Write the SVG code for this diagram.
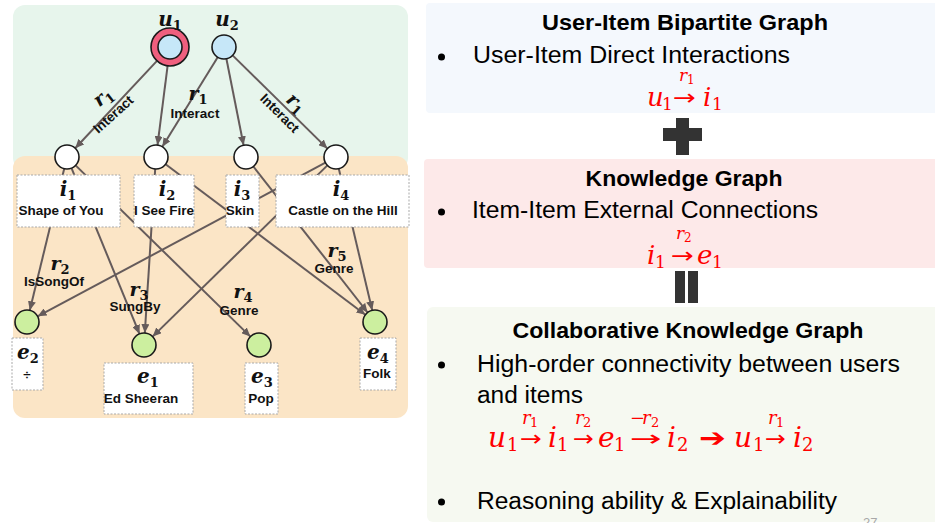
<svg xmlns="http://www.w3.org/2000/svg" width="935" height="523" viewBox="0 0 935 523">
  <style>
    .bg-g { fill: #e7f5ec; }
    .bg-o { fill: #fbe5c6; }
    .edge { stroke: #655b5b; stroke-width: 2; fill: none; marker-end: url(#ah); }
    .nd { stroke: #1a1a1a; stroke-width: 1.6; }
    .item { fill: #ffffff; }
    .ent { fill: #ccef9f; }
    .usr { fill: #c6e7f8; }
    .box { fill: #ffffff; stroke: #a9a9a9; stroke-width: 1; stroke-dasharray: 2 1.5; }
    .m { font-family: "DejaVu Serif", "Liberation Serif", serif; font-weight: bold; fill: #111; }
    .v { font-style: italic; }
    .lbl { font-family: "Liberation Sans", Arial, sans-serif; font-weight: bold; font-size: 13.5px; fill: #111; }
    .h { font-family: "Liberation Sans", Arial, sans-serif; font-weight: bold; font-size: 22px; fill: #000; text-anchor: middle; }
    .b { font-family: "Liberation Sans", Arial, sans-serif; font-size: 23px; fill: #000; }
    .f { font-family: "DejaVu Serif", "Liberation Serif", serif; font-style: italic; fill: #ff0000; }
    .fu { font-style: normal; }
    .ar { font-family: "DejaVu Sans", sans-serif; fill: #ff0000; font-style: normal; }
    .sym { fill: #333333; }
  </style>
  <defs>
    <marker id="ah" markerUnits="userSpaceOnUse" markerWidth="10" markerHeight="8" refX="9" refY="4" orient="auto">
      <path d="M0,0 L9,4 L0,8 z" fill="#655b5b"/>
    </marker>
  </defs>

  <!-- left: graph backgrounds -->
  <rect class="bg-g" x="13" y="5" width="395" height="165" rx="12"/>
  <rect class="bg-o" x="13" y="156" width="395" height="262" rx="12"/>

  <!-- connectors -->
  <g id="connectors">
    <line class="edge" x1="157" y1="60.9" x2="75.2" y2="148.2"/>
    <line class="edge" x1="167.6" y1="65.8" x2="157.5" y2="145.1"/>
    <line class="edge" x1="217.7" y1="57.2" x2="162.3" y2="146.8"/>
    <line class="edge" x1="226.4" y1="58.8" x2="243.6" y2="145.2"/>
    <line class="edge" x1="232.6" y1="55.4" x2="327.4" y2="148.6"/>

    <line class="edge" x1="64.2" y1="168.7" x2="29.8" y2="310.3"/>
    <line class="edge" x1="71.5" y1="168.1" x2="139.5" y2="333.9"/>
    <line class="edge" x1="75.6" y1="165.4" x2="250.4" y2="336.6"/>
    <line class="edge" x1="155.2" y1="169" x2="144.8" y2="333"/>
    <line class="edge" x1="165.6" y1="164.2" x2="365.4" y2="314.8"/>
    <line class="edge" x1="253.4" y1="166.5" x2="367.6" y2="312.5"/>
    <line class="edge" x1="327.4" y1="165.4" x2="152.6" y2="336.6"/>
    <line class="edge" x1="325.4" y1="162.7" x2="37.6" y2="316.3"/>
    <line class="edge" x1="338.8" y1="168.7" x2="372.2" y2="310.3"/>

    <!-- relation labels -->
    <g transform="translate(103,97) rotate(-38)">
      <text class="m" text-anchor="middle" y="6"><tspan class="v" font-size="19">r</tspan><tspan font-size="13" dy="4">1</tspan></text>
    </g>
    <text class="lbl" transform="translate(113,114) rotate(-42)" text-anchor="middle" y="5" font-size="13">Interact</text>
    <text class="m" x="198" y="100" text-anchor="middle"><tspan class="v" font-size="19">r</tspan><tspan font-size="13" dy="4">1</tspan></text>
    <text class="lbl" x="195" y="118" text-anchor="middle" font-size="13">Interact</text>
    <g transform="translate(296,103) rotate(42)">
      <text class="m" text-anchor="middle" y="6"><tspan class="v" font-size="19">r</tspan><tspan font-size="13" dy="4">1</tspan></text>
    </g>
    <text class="lbl" transform="translate(280,113) rotate(45)" text-anchor="middle" y="5" font-size="13">Interact</text>

    <text class="m" x="60" y="270" text-anchor="middle"><tspan class="v" font-size="19">r</tspan><tspan font-size="13" dy="4">2</tspan></text>
    <text class="lbl" x="54" y="286" text-anchor="middle">IsSongOf</text>
    <text class="m" x="139" y="296" text-anchor="middle"><tspan class="v" font-size="19">r</tspan><tspan font-size="13" dy="4">3</tspan></text>
    <text class="lbl" x="135" y="311" text-anchor="middle">SungBy</text>
    <text class="m" x="243" y="298" text-anchor="middle"><tspan class="v" font-size="19">r</tspan><tspan font-size="13" dy="4">4</tspan></text>
    <text class="lbl" x="239" y="315" text-anchor="middle">Genre</text>
    <text class="m" x="337" y="257" text-anchor="middle"><tspan class="v" font-size="19">r</tspan><tspan font-size="13" dy="4">5</tspan></text>
    <text class="lbl" x="334" y="273" text-anchor="middle">Genre</text>
  </g>

  <!-- users -->
  <g id="u1">
    <circle cx="170" cy="47" r="19" fill="#ef5f7e" class="nd"/>
    <circle cx="170" cy="47" r="12" class="nd usr"/>
    <text class="m" x="170" y="26" text-anchor="middle"><tspan class="v" font-size="20">u</tspan><tspan font-size="13" dy="4">1</tspan></text>
  </g>
  <g id="u2">
    <circle cx="224" cy="47" r="12" class="nd usr"/>
    <text class="m" x="227" y="26" text-anchor="middle"><tspan class="v" font-size="20">u</tspan><tspan font-size="13" dy="4">2</tspan></text>
  </g>

  <!-- items -->
  <g id="i1">
    <circle cx="67" cy="157" r="12" class="nd item"/>
    <rect class="box" x="17" y="175" width="103" height="52"/>
    <text class="m" x="68" y="196" text-anchor="middle"><tspan class="v" font-size="20">i</tspan><tspan font-size="13" dy="4">1</tspan></text>
    <text class="lbl" x="61" y="215" text-anchor="middle">Shape of You</text>
  </g>
  <g id="i2">
    <circle cx="156" cy="157" r="12" class="nd item"/>
    <rect class="box" x="134" y="175" width="60" height="52"/>
    <text class="m" x="167" y="196" text-anchor="middle"><tspan class="v" font-size="20">i</tspan><tspan font-size="13" dy="4">2</tspan></text>
    <text class="lbl" x="164" y="215" text-anchor="middle">I See Fire</text>
  </g>
  <g id="i3">
    <circle cx="246" cy="157" r="12" class="nd item"/>
    <rect class="box" x="226" y="175" width="33" height="52"/>
    <text class="m" x="242" y="196" text-anchor="middle"><tspan class="v" font-size="20">i</tspan><tspan font-size="13" dy="4">3</tspan></text>
    <text class="lbl" x="240" y="215" text-anchor="middle">Skin</text>
  </g>
  <g id="i4">
    <circle cx="336" cy="157" r="12" class="nd item"/>
    <rect class="box" x="276" y="175" width="133" height="52"/>
    <text class="m" x="341" y="196" text-anchor="middle"><tspan class="v" font-size="20">i</tspan><tspan font-size="13" dy="4">4</tspan></text>
    <text class="lbl" x="343" y="215" text-anchor="middle">Castle on the Hill</text>
  </g>

  <!-- entities -->
  <g id="e2">
    <circle cx="27" cy="322" r="12" class="nd ent"/>
    <rect class="box" x="12" y="338" width="31" height="52"/>
    <text class="m" x="28" y="359" text-anchor="middle"><tspan class="v" font-size="20">e</tspan><tspan font-size="13" dy="4">2</tspan></text>
    <text class="lbl" x="27" y="379" text-anchor="middle">÷</text>
  </g>
  <g id="e1">
    <circle cx="144" cy="345" r="12" class="nd ent"/>
    <rect class="box" x="104" y="363" width="89" height="51"/>
    <text class="m" x="148" y="383" text-anchor="middle"><tspan class="v" font-size="20">e</tspan><tspan font-size="13" dy="4">1</tspan></text>
    <text class="lbl" x="141" y="403" text-anchor="middle">Ed Sheeran</text>
  </g>
  <g id="e3">
    <circle cx="259" cy="345" r="12" class="nd ent"/>
    <rect class="box" x="245" y="363" width="33" height="51"/>
    <text class="m" x="262" y="383" text-anchor="middle"><tspan class="v" font-size="20">e</tspan><tspan font-size="13" dy="4">3</tspan></text>
    <text class="lbl" x="261" y="403" text-anchor="middle">Pop</text>
  </g>
  <g id="e4">
    <circle cx="375" cy="322" r="12" class="nd ent"/>
    <rect class="box" x="360" y="338" width="36" height="52"/>
    <text class="m" x="378" y="359" text-anchor="middle"><tspan class="v" font-size="20">e</tspan><tspan font-size="13" dy="4">4</tspan></text>
    <text class="lbl" x="377" y="378" text-anchor="middle">Folk</text>
  </g>

  <!-- right: user-item bipartite graph -->
  <g id="panel-bipartite">
    <rect x="426" y="3" width="515" height="110" rx="4" fill="#f4f8fd"/>
    <text class="h" x="685" y="30" textLength="286" lengthAdjust="spacingAndGlyphs">User-Item Bipartite Graph</text>
    <circle cx="441.5" cy="57" r="3.5" fill="#000"/>
    <text class="b" x="473" y="63" textLength="317" lengthAdjust="spacingAndGlyphs">User-Item Direct Interactions</text>
    <text class="f" font-size="26" x="647" y="106">u</text>
    <text class="f fu" font-size="17" x="662" y="110">1</text>
    <text class="ar" font-size="22" x="673" y="105" textLength="23" lengthAdjust="spacingAndGlyphs">→</text>
    <text class="f" font-size="17" x="679" y="81">r</text>
    <text class="f fu" font-size="12" x="687" y="84">1</text>
    <text class="f" font-size="26" x="703" y="106">i</text>
    <text class="f fu" font-size="17" x="712" y="110">1</text>
  </g>

  <!-- plus -->
  <path class="sym" d="M676,118 H689 V128 H702 V141 H689 V155 H676 V141 H663 V128 H676 Z"/>

  <!-- right: knowledge graph -->
  <g id="panel-kg">
    <rect x="424" y="159" width="515" height="109" rx="4" fill="#fde9e9"/>
    <text class="h" x="684" y="186" textLength="197" lengthAdjust="spacingAndGlyphs">Knowledge Graph</text>
    <circle cx="441.5" cy="212" r="3.5" fill="#000"/>
    <text class="b" x="472" y="218" textLength="346" lengthAdjust="spacingAndGlyphs">Item-Item External Connections</text>
    <text class="f" font-size="26" x="647" y="264">i</text>
    <text class="f fu" font-size="17" x="655" y="268">1</text>
    <text class="ar" font-size="22" x="671" y="263" textLength="23" lengthAdjust="spacingAndGlyphs">→</text>
    <text class="f" font-size="17" x="676" y="239">r</text>
    <text class="f fu" font-size="12" x="684" y="242">2</text>
    <text class="f" font-size="26" x="697" y="264">e</text>
    <text class="f fu" font-size="17" x="712" y="268">1</text>
  </g>

  <!-- equals -->
  <rect class="sym" x="675" y="271" width="10" height="32"/>
  <rect class="sym" x="688" y="271" width="10" height="32"/>

  <!-- right: collaborative knowledge graph -->
  <g id="panel-ckg">
    <rect x="427" y="307" width="515" height="215" rx="6" fill="#f6f9f1"/>
    <text class="h" x="688" y="338" textLength="351" lengthAdjust="spacingAndGlyphs">Collaborative Knowledge Graph</text>
    <circle cx="441.5" cy="365" r="3.5" fill="#000"/>
    <text class="b" x="477" y="372" textLength="423" lengthAdjust="spacingAndGlyphs">High-order connectivity between users</text>
    <text class="b" x="477" y="403" textLength="106" lengthAdjust="spacingAndGlyphs">and items</text>

    <text class="f" font-size="28" x="488" y="447">u</text>
    <text class="f fu" font-size="18" x="507" y="451">1</text>
    <text class="ar" font-size="22" x="520" y="446" textLength="22" lengthAdjust="spacingAndGlyphs">→</text>
    <text class="f" font-size="18" x="522" y="424">r</text>
    <text class="f fu" font-size="13" x="530" y="427">1</text>
    <text class="f" font-size="28" x="548" y="447">i</text>
    <text class="f fu" font-size="18" x="557" y="451">1</text>
    <text class="ar" font-size="22" x="573" y="446" textLength="21" lengthAdjust="spacingAndGlyphs">→</text>
    <text class="f" font-size="18" x="575" y="424">r</text>
    <text class="f fu" font-size="13" x="583" y="427">2</text>
    <text class="f" font-size="28" x="598" y="447">e</text>
    <text class="f fu" font-size="18" x="614" y="451">1</text>
    <text class="ar" font-size="22" x="630" y="446" textLength="32" lengthAdjust="spacingAndGlyphs">→</text>
    <text class="f fu" font-size="18" x="630" y="424">−</text>
    <text class="f" font-size="18" x="642" y="424">r</text>
    <text class="f fu" font-size="13" x="651" y="427">2</text>
    <text class="f" font-size="28" x="667" y="447">i</text>
    <text class="f fu" font-size="18" x="677" y="451">2</text>
    <text class="ar" font-size="26" font-weight="bold" x="699" y="447" textLength="27" lengthAdjust="spacingAndGlyphs">➔</text>
    <text class="f" font-size="28" x="734" y="447">u</text>
    <text class="f fu" font-size="18" x="753" y="451">1</text>
    <text class="ar" font-size="22" x="765" y="446" textLength="21" lengthAdjust="spacingAndGlyphs">→</text>
    <text class="f" font-size="18" x="768" y="424">r</text>
    <text class="f fu" font-size="13" x="776" y="427">1</text>
    <text class="f" font-size="28" x="793" y="447">i</text>
    <text class="f fu" font-size="18" x="802" y="451">2</text>

    <circle cx="441.5" cy="502" r="3.5" fill="#000"/>
    <text class="b" x="477" y="509" textLength="360" lengthAdjust="spacingAndGlyphs">Reasoning ability &amp; Explainability</text>
    <text x="863" y="527" font-family="Liberation Sans, Arial, sans-serif" font-size="13" fill="#a8a8a8">27</text>
  </g>
</svg>
